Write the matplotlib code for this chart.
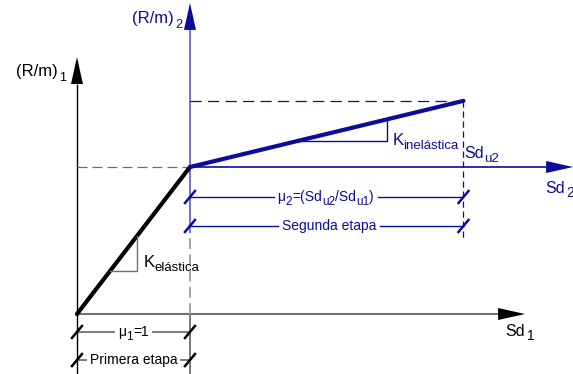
import matplotlib.pyplot as plt
from matplotlib.patches import Polygon
from matplotlib.transforms import offset_copy

plt.rcParams['font.family'] = ['Liberation Sans', 'DejaVu Sans']

# curva bilineal: desplazamiento normalizado (Sd / Sd_u1) y resistencia normalizada
sd_elastica = [0.0, 1.0]
rm_elastica = [0.0, 1.0]
sd_inelastica = [1.0, 3.42]
rm_inelastica = [1.0, 1.45]

AZUL = '#0c0c9c'
AZUL_EJE = '#5c5cc8'
GRIS = '#707070'

fig = plt.figure(figsize=(5.73, 3.74), dpi=100)
ax = fig.add_axes([0, 0, 1, 1])
x0, x1 = -0.681, 4.389
y0, y1 = -0.408, 2.136
ax.set_xlim(x0, x1)
ax.set_ylim(y0, y1)
ax.axis('off')
renderer = fig.canvas.get_renderer()

# pixeles por unidad
px = 573 / (x1 - x0)
py = 374 / (y1 - y0)


def flecha(xa, ya, xb, yb, color, lw, cabeza='k'):
    # linea + punta triangular
    L, W = 27, 6
    if ya == yb:
        xs = xb - L / px
        ax.plot([xa, xs], [ya, yb], color=color, lw=lw, solid_capstyle='butt')
        pts = [(xs, yb - W / py), (xs, yb + W / py), (xb, yb)]
    else:
        ys = yb - L / py
        ax.plot([xa, xb], [ya, ys], color=color, lw=lw, solid_capstyle='butt')
        pts = [(xb - W / px, ys), (xb + W / px, ys), (xb, yb)]
    ax.add_patch(Polygon(pts, closed=True, color=cabeza, lw=0))


def rotulo(x, y, partes, size, color, ha='left', sub=None, baja=5, hueco=0):
    # texto con subindices: partes = [(texto, es_subindice), ...]
    sub = sub or size * 0.78
    arts = []
    for s, es_sub in partes:
        t = ax.text(x, y, s, fontsize=sub if es_sub else size, color=color,
                    ha='left', va='baseline')
        arts.append((t, es_sub))
    anchos = [t.get_window_extent(renderer).width + (hueco if es_sub else 0)
              for t, es_sub in arts]
    total = sum(anchos)
    off = {'left': 0, 'center': -total / 2, 'right': -total}[ha]
    for (t, es_sub), w in zip(arts, anchos):
        dx = off + (hueco if es_sub else 0)
        t.set_transform(offset_copy(ax.transData, fig=fig, x=dx,
                                    y=-baja if es_sub else 0, units='dots'))
        off += w
    return total


def marca(x, y, color):
    ax.plot([x - 5 / px, x + 5 / px], [y - 6 / py, y + 6 / py], color=color, lw=1.8)


def cota(xa, xb, y, partes, color, lw, tick_color, xc=None):
    xc = (xa + xb) / 2 if xc is None else xc
    w = rotulo(xc, y - 4 / py, partes, 10, color, ha='center', sub=8.5, baja=4)
    gap = (w / 2 + 4) / px
    ax.plot([xa, xc - gap], [y, y], color=color if color == AZUL else GRIS, lw=lw)
    ax.plot([xc + gap, xb], [y, y], color=color if color == AZUL else GRIS, lw=lw)
    marca(xa, y, tick_color)
    marca(xb, y, tick_color)


sd_y, rm_y = sd_elastica[1], rm_elastica[1]
sd_u, rm_u = sd_inelastica[1], rm_inelastica[1]

# ejes primera etapa
flecha(0, y0, 0, 1.748, 'k', 1.0)
ax.plot([sd_y, sd_y], [y0, 0], color=GRIS, lw=1.3)
flecha(0, 0, 3.965, 0, GRIS, 1.5)
ax.plot([0, sd_y], [rm_y, rm_y], color=GRIS, lw=0.9, dashes=(8, 4))
ax.plot([sd_y, sd_y], [0, 0.55], color='#a0a0a0', lw=1.3, dashes=(6, 3))

# ejes segunda etapa
flecha(sd_y, 0.55, sd_y, 2.116, AZUL_EJE, 1.2, cabeza=AZUL)
flecha(sd_y, rm_y, 4.39, rm_y, AZUL, 1.2, cabeza=AZUL)
ax.plot([sd_y, sd_u], [rm_u, rm_u], color=AZUL, lw=0.9, dashes=(9, 5))
ax.plot([sd_u, sd_u], [rm_u, 0.52], color=AZUL, lw=0.9, dashes=(5, 3))

# curva
ax.plot(sd_elastica, rm_elastica, color='k', lw=3, solid_capstyle='round')
ax.plot(sd_inelastica, rm_inelastica, color=AZUL, lw=3, solid_capstyle='round')

# triangulos de pendiente
m1 = (rm_elastica[1] - rm_elastica[0]) / (sd_elastica[1] - sd_elastica[0])
yb1, xt1 = 0.29, 0.53
ax.plot([yb1 / m1, xt1, xt1], [yb1, yb1, xt1 * m1], color=GRIS, lw=1.0)
m2 = (rm_inelastica[1] - rm_inelastica[0]) / (sd_inelastica[1] - sd_inelastica[0])
yb2 = 1.18
xt2 = 2.74
ax.plot([sd_y + (yb2 - rm_y) / m2, xt2, xt2], [yb2, yb2, rm_y + (xt2 - sd_y) * m2],
        color=AZUL, lw=1.0)

# cotas
cota(sd_y, sd_u, 0.796, [('μ', 0), ('2', 1), ('=(Sd', 0), ('u2', 1), ('/Sd', 0), ('u1', 1), (')', 0)],
     AZUL, 1.0, AZUL, xc=2.2)
cota(sd_y, sd_u, 0.599, [('Segunda etapa', 0)], AZUL, 1.0, AZUL, xc=2.23)
cota(0, sd_y, -0.122, [('μ', 0), ('1', 1), ('=1', 0)], 'k', 1.3, 'k')
cota(0, sd_y, -0.313, [('Primera etapa', 0)], 'k', 1.3, 'k')

# etiquetas
rotulo(-0.1, 1.62, [('(R/m)', 0), ('1', 1)], 12, 'k', ha='right', sub=9, hueco=1)
rotulo(0.93, 1.98, [('(R/m)', 0), ('2', 1)], 12, AZUL, ha='right', sub=9, hueco=1)
rotulo(3.43, 1.06, [('Sd', 0), ('u2', 1)], 11.5, AZUL, sub=9.5, baja=4)
rotulo(4.14, 0.82, [('Sd', 0), ('2', 1)], 11.5, AZUL, sub=10, baja=4, hueco=2)
rotulo(3.79, -0.15, [('Sd', 0), ('1', 1)], 11.5, 'k', sub=10, baja=4, hueco=2)
rotulo(0.59, 0.32, [('K', 0), ('elástica', 1)], 12, 'k', sub=9.5, baja=4)
rotulo(2.79, 1.15, [('K', 0), ('inelástica', 1)], 12, AZUL, sub=9.5, baja=4)

fig.savefig('out.png', dpi=100)
